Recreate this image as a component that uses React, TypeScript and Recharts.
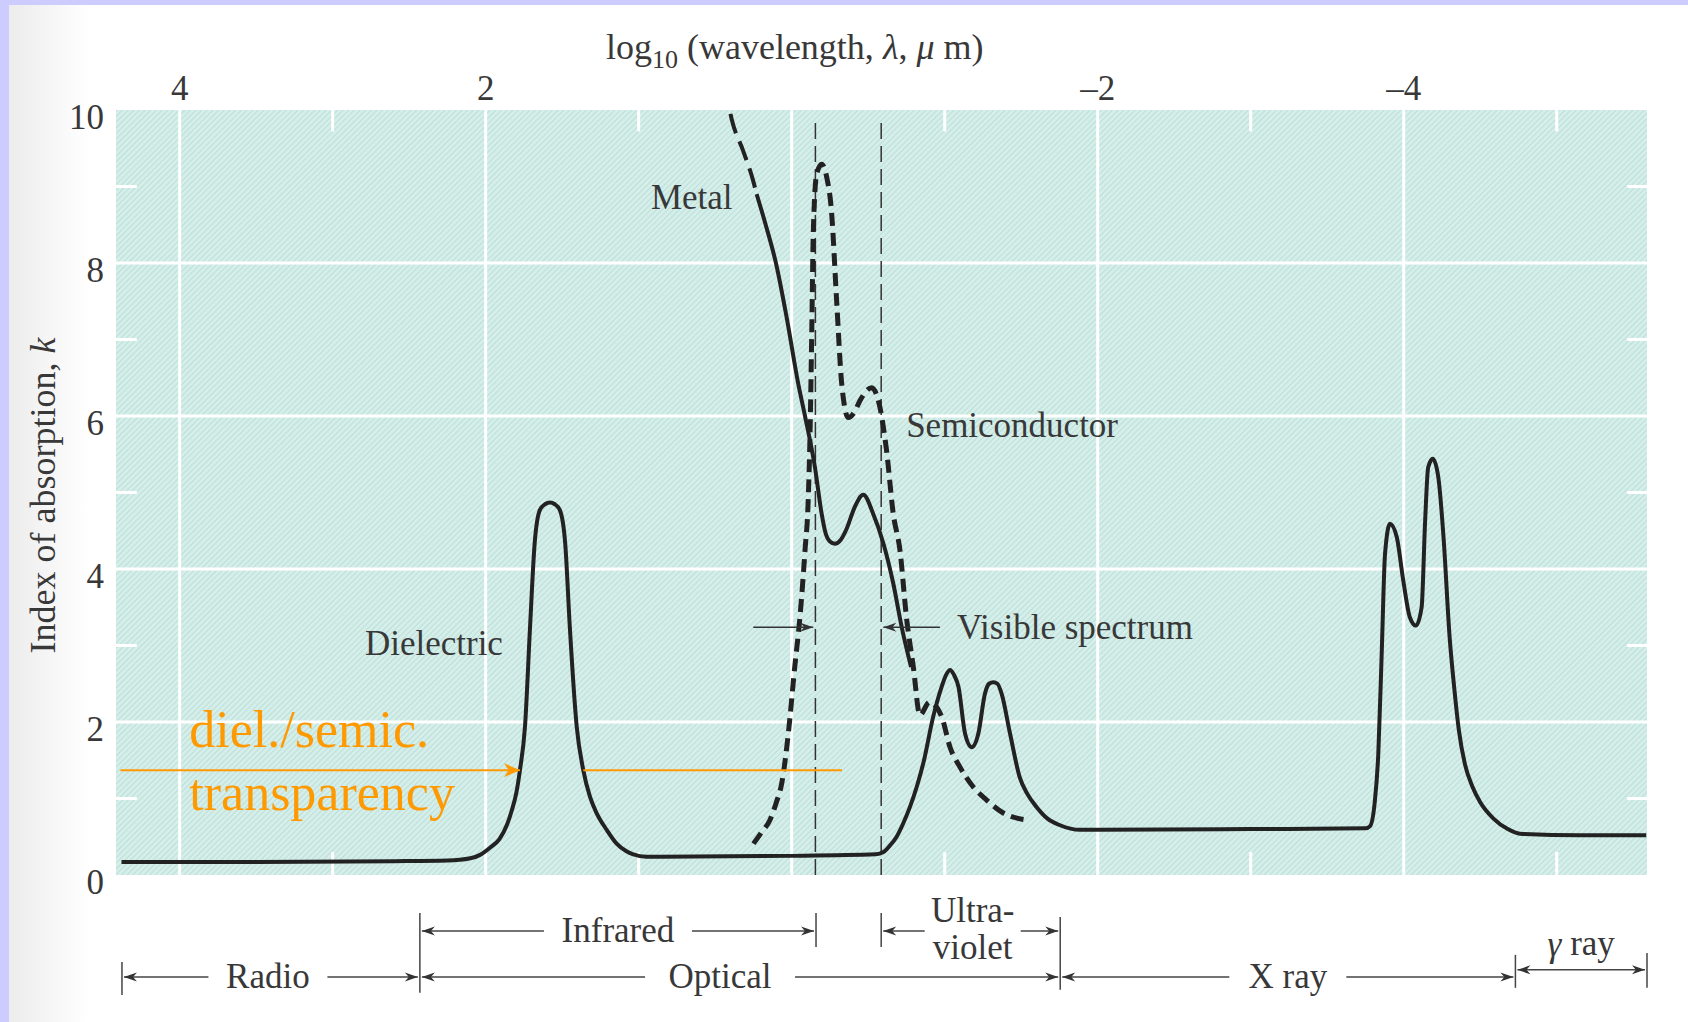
import React from 'react';
import {
  CartesianGrid,
  Line,
  LineChart,
  ReferenceDot,
  ReferenceLine,
  XAxis,
  YAxis,
} from 'recharts';

// log10(wavelength) ticks along the top, absorption index k on the left
const xTicks = [4, 2, 0, -2, -4];
const yTicks = [0, 2, 4, 6, 8, 10];
const xMinor = [3, 1, -1, -3, -5];
const yMinor = [1, 3, 5, 7, 9];
const xDomain: [number, number] = [-5.59, 4.416];

// Dielectric (solid)
const dielectricL = [
  4.38, 3.5, 2.6, 2.25, 2.1, 2.04, 1.97, 1.91, 1.86, 1.83, 1.8, 1.776, 1.743, 1.71, 1.68, 1.646,
  1.61, 1.58, 1.55, 1.515, 1.48, 1.45, 1.405, 1.362, 1.318, 1.275, 1.209, 1.144, 1.08, 1.035,
  0.95, 0.86, 0, -0.55, -0.6, -0.64, -0.686, -0.73, -0.773, -0.82, -0.86, -0.925, -0.98, -1.01,
  -1.035, -1.06, -1.09, -1.133, -1.177, -1.22, -1.263, -1.29, -1.318, -1.345, -1.372, -1.427,
  -1.49, -1.54, -1.6, -1.67, -1.754, -1.884, -2.01, -3, -3.75, -3.78, -3.81, -3.834, -3.856,
  -3.878, -3.91, -3.954, -3.997, -4.04, -4.08, -4.117, -4.14, -4.16, -4.19, -4.226, -4.26, -4.3,
  -4.33, -4.36, -4.4, -4.45, -4.5, -4.585, -4.68, -4.76, -5.15, -5.585,
];
const dielectricK = [
  0.17, 0.17, 0.18, 0.19, 0.22, 0.26, 0.36, 0.47, 0.66, 0.84, 1.07, 1.37, 1.94, 3.24, 4.33, 4.77,
  4.85, 4.87, 4.85, 4.77, 4.33, 3.24, 1.94, 1.37, 1.02, 0.81, 0.59, 0.41, 0.31, 0.27,
  0.24, 0.24, 0.25, 0.27, 0.3, 0.38, 0.5, 0.68, 0.89, 1.17, 1.46, 2.07, 2.46, 2.62,
  2.68, 2.62, 2.46, 1.85, 1.67, 1.85, 2.37, 2.5, 2.52, 2.5, 2.37, 1.85,
  1.28, 1.06, 0.89, 0.74, 0.65, 0.59, 0.59, 0.6, 0.61, 0.64, 0.94, 1.59, 2.89,
  4.2, 4.59, 4.42, 3.85, 3.37, 3.26, 3.5, 4.63, 5.33, 5.44, 5.2, 4.42, 3.11,
  2.45, 1.9, 1.45, 1.15, 0.95, 0.74, 0.6, 0.54, 0.52, 0.52,
];

// Semiconductor (short dashes)
const semiL = [
  0.25, 0.2, 0.142, 0.1, 0.065, 0.022, -0.02, -0.054, -0.087, -0.108, -0.12, -0.131, -0.141,
  -0.163, -0.196, -0.229, -0.26, -0.294, -0.327, -0.37, -0.41, -0.446, -0.523, -0.577, -0.62,
  -0.664, -0.708, -0.75, -0.795, -0.838, -0.9, -0.98, -1.035, -1.1, -1.187, -1.274, -1.383,
  -1.536,
];
const semiK = [
  0.41, 0.55, 0.72, 0.95, 1.2, 1.85, 2.72, 3.37, 4.24, 4.9, 5.77, 7.07, 8.38,
  9.16, 9.29, 9.12, 8.68, 7.5, 6.42, 5.98, 6.05, 6.2, 6.37, 6.11, 5.55,
  4.72, 4.24, 3.37, 2.72, 2.09, 2.26, 2.07, 1.67, 1.41, 1.15, 0.98, 0.81,
  0.72,
];

// Metal: long-dashed start, then solid
const metalDashL = [0.4, 0.392, 0.316, 0.251, 0.229];
const metalDashK = [9.95, 9.88, 9.46, 9.07, 8.9];
const metalL = [
  0.229, 0.17, 0.103, 0.033, -0.043, -0.087, -0.152, -0.196, -0.22, -0.25, -0.283, -0.32, -0.36,
  -0.41, -0.468, -0.533, -0.6, -0.664, -0.719, -0.78,
];
const metalK = [
  8.9, 8.5, 8.0, 7.29, 6.42, 6.0, 5.33, 4.72, 4.48, 4.36, 4.33, 4.38, 4.53,
  4.8, 4.97, 4.72, 4.33, 3.81, 3.24, 2.72,
];

// visible spectrum limits
const visibleL = [-0.155, -0.585];

// spectral bands below the plot (log wavelength limits)
const bandNames = ['Radio', 'Infrared', 'Optical', 'Ultra-violet', 'X ray', 'γ ray'];
const bandFrom = [4.377, 2.43, 2.43, -0.585, -1.755, -4.73];
const bandTo = [2.43, -0.159, -1.755, -1.755, -4.73, -5.59];

const zip = (ls: number[], ks: number[]) => ls.map((L, i) => ({ L, k: ks[i] }));

const INK = '#222';
const TXT = '#383838';
const ORANGE = '#ff9900';
const SERIF = "'Liberation Serif', 'DejaVu Serif', serif";

const head = (x: number, y: number, dir: number, color: string, len = 13, half = 4.5) => (
  <path
    d={`M${x},${y} L${x - dir * len},${y - half} L${x - dir * len * 0.7},${y} L${x - dir * len},${y + half} Z`}
    fill={color}
  />
);

// plain arrow: line with optional head at the end point
const arrowShape = (color: string, width: number, withHead: boolean, len = 13, half = 4.5) => (p: any) => {
  const dir = Math.sign(p.x2 - p.x1) || 1;
  return (
    <g>
      <line x1={p.x1} y1={p.y1} x2={p.x2} y2={p.y2} stroke={color} strokeWidth={width} />
      {withHead && head(p.x2, p.y2, dir, color, len, half)}
    </g>
  );
};

// band arrow |<---- label ---->|
const bandShape = (lines: React.ReactNode[], gap: number, shift: number, textDy: number) => (p: any) => {
  const x1 = p.x1 + 2;
  const x2 = p.x2 - 2;
  const y = p.y1;
  const mid = (p.x1 + p.x2) / 2 + shift;
  return (
    <g>
      {gap > 0 ? (
        <>
          <line x1={x1} y1={y} x2={mid - gap / 2} y2={y} stroke="#444" strokeWidth={1.5} />
          <line x1={mid + gap / 2} y1={y} x2={x2} y2={y} stroke="#444" strokeWidth={1.5} />
        </>
      ) : (
        <line x1={x1} y1={y} x2={x2} y2={y} stroke="#444" strokeWidth={1.5} />
      )}
      {head(x1, y, -1, '#333')}
      {head(x2, y, 1, '#333')}
      {lines.map((t, i) => (
        <text
          key={i}
          x={mid}
          y={y + textDy + i * 37}
          textAnchor="middle"
          dominantBaseline="central"
          fontSize={35}
          fill={TXT}
          fontFamily={SERIF}
        >
          {t}
        </text>
      ))}
    </g>
  );
};

const textShape = (node: React.ReactNode, size: number, color = TXT, anchor = 'start', rotate = 0) => (p: any) => (
  <text
    x={p.cx}
    y={p.cy}
    fontSize={size}
    fill={color}
    fontFamily={SERIF}
    textAnchor={anchor}
    transform={rotate ? `rotate(${rotate} ${p.cx} ${p.cy})` : undefined}
    dominantBaseline={rotate ? 'central' : undefined}
  >
    {node}
  </text>
);

const fmtX = (v: number) => (v === 0 ? '' : v < 0 ? `–${Math.abs(v)}` : String(v));

const bandStyle: { lines: React.ReactNode[]; row: number; gap: number; shift: number; dy: number }[] = [
  { lines: ['Radio'], row: -1.332, gap: 119, shift: -3, dy: 0 },
  { lines: ['Infrared'], row: -0.731, gap: 148, shift: 0, dy: 0 },
  { lines: ['Optical'], row: -1.332, gap: 150, shift: -20, dy: 0 },
  { lines: ['Ultra-', 'violet'], row: -0.731, gap: 96, shift: 2, dy: -20 },
  { lines: ['X ray'], row: -1.332, gap: 117, shift: 0, dy: 0 },
  { lines: [<><tspan fontStyle="italic">γ</tspan> ray</>], row: -1.24, gap: 0, shift: 0, dy: -26 },
];

// band separators: [L, kTop, kBottom]
const separators: [number, number, number][] = [
  [4.377, -1.136, -1.567],
  [2.43, -0.496, -1.54],
  [-0.159, -0.496, -0.94],
  [-0.585, -0.496, -0.94],
  [-1.755, -0.548, -1.5],
  [-4.73, -1.044, -1.475],
  [-5.59, -1.018, -1.475],
];

const App: React.FC = () => {
  return (
    <div
      style={{
        position: 'absolute',
        left: 0,
        top: 0,
        width: 1688,
        height: 1022,
        background: '#fff',
        overflow: 'hidden',
        fontFamily: SERIF,
      }}
    >
      <div style={{ position: 'absolute', left: 9, top: 0, width: 80, height: 1022, background: 'linear-gradient(90deg, #ececec, #ffffff)' }} />
      <div style={{ position: 'absolute', left: 0, top: 0, width: 1688, height: 5, background: '#ccccff' }} />
      <div style={{ position: 'absolute', left: 0, top: 0, width: 9, height: 1022, background: '#ccccff' }} />
      <div style={{ position: 'absolute', left: 0, top: 0 }}>
        <LineChart width={1688} height={1022} margin={{ top: 70, right: 41, bottom: 147, left: 56 }}>
          <defs>
            <pattern id="hatch" width="4" height="4" patternUnits="userSpaceOnUse" patternTransform="rotate(45)">
              <rect width="4" height="4" fill="#d5eeea" />
              <line x1="0" y1="0" x2="0" y2="4" stroke="#b3dbd3" strokeWidth="1.5" />
            </pattern>
          </defs>
          <CartesianGrid
            fill="url(#hatch)"
            stroke="#ffffff"
            strokeWidth={3}
            horizontalValues={[2, 4, 6, 8]}
            verticalValues={[4, 2, 0, -2, -4]}
          />
          <XAxis
            dataKey="L"
            type="number"
            orientation="top"
            reversed
            domain={xDomain}
            ticks={xTicks}
            tickFormatter={fmtX}
            height={40}
            axisLine={false}
            tickLine={false}
            tickSize={0}
            tickMargin={10}
            tick={{ fill: TXT, fontSize: 35, fontFamily: SERIF }}
            allowDataOverflow
          />
          <YAxis
            type="number"
            domain={[0, 10]}
            ticks={yTicks}
            width={60}
            axisLine={false}
            tickLine={false}
            tickSize={0}
            tickMargin={12}
            tick={{ fill: TXT, fontSize: 35, fontFamily: SERIF, dy: 7 }}
            allowDataOverflow
          />

          {/* white minor stubs on the frame */}
          {xMinor.map((v) => (
            <ReferenceLine key={`t${v}`} segment={[{ x: v, y: 10 }, { x: v, y: 9.72 }]} stroke="#fff" strokeWidth={3} ifOverflow="visible" />
          ))}
          {xMinor.map((v) => (
            <ReferenceLine key={`b${v}`} segment={[{ x: v, y: 0 }, { x: v, y: 0.3 }]} stroke="#fff" strokeWidth={3} ifOverflow="visible" />
          ))}
          {yMinor.map((v) => (
            <ReferenceLine key={`l${v}`} segment={[{ x: xDomain[1], y: v }, { x: 4.28, y: v }]} stroke="#fff" strokeWidth={3} ifOverflow="visible" />
          ))}
          {yMinor.map((v) => (
            <ReferenceLine key={`r${v}`} segment={[{ x: xDomain[0], y: v }, { x: -5.46, y: v }]} stroke="#fff" strokeWidth={3} ifOverflow="visible" />
          ))}

          {/* visible spectrum limits */}
          {visibleL.map((v) => (
            <ReferenceLine
              key={`v${v}`}
              segment={[{ x: v, y: 9.83 }, { x: v, y: 0 }]}
              stroke="#333"
              strokeWidth={1.5}
              strokeDasharray="16 7"
              ifOverflow="visible"
            />
          ))}

          <Line data={zip(dielectricL, dielectricK)} dataKey="k" type="monotone" stroke={INK} strokeWidth={4} dot={false} activeDot={false} isAnimationActive={false} />
          <Line data={zip(semiL, semiK)} dataKey="k" type="monotone" stroke={INK} strokeWidth={5} strokeDasharray="13 7" dot={false} activeDot={false} isAnimationActive={false} />
          <Line data={zip(metalDashL, metalDashK)} dataKey="k" type="monotone" stroke={INK} strokeWidth={4} strokeDasharray="20 9" dot={false} activeDot={false} isAnimationActive={false} />
          <Line data={zip(metalL, metalK)} dataKey="k" type="monotone" stroke={INK} strokeWidth={4} dot={false} activeDot={false} isAnimationActive={false} />

          {/* visible spectrum arrows */}
          <ReferenceLine segment={[{ x: 0.251, y: 3.24 }, { x: -0.141, y: 3.24 }]} ifOverflow="visible" shape={arrowShape('#333', 1.5, true)} />
          <ReferenceLine segment={[{ x: -0.969, y: 3.24 }, { x: -0.599, y: 3.24 }]} ifOverflow="visible" shape={arrowShape('#333', 1.5, true)} />

          {/* orange transparency arrow */}
          <ReferenceLine segment={[{ x: 4.387, y: 1.37 }, { x: 1.776, y: 1.37 }]} ifOverflow="visible" shape={arrowShape(ORANGE, 2, true, 16, 7)} />
          <ReferenceLine segment={[{ x: 1.362, y: 1.37 }, { x: -0.329, y: 1.37 }]} ifOverflow="visible" shape={arrowShape(ORANGE, 2, false)} />

          {/* bands below the plot */}
          {bandNames.map((name, i) => (
            <ReferenceLine
              key={name}
              segment={[{ x: bandFrom[i], y: bandStyle[i].row }, { x: bandTo[i], y: bandStyle[i].row }]}
              ifOverflow="visible"
              shape={bandShape(bandStyle[i].lines, bandStyle[i].gap, bandStyle[i].shift, bandStyle[i].dy)}
            />
          ))}
          {separators.map(([L, a, b]) => (
            <ReferenceLine key={`s${L}`} segment={[{ x: L, y: a }, { x: L, y: b }]} stroke="#444" strokeWidth={1.5} ifOverflow="visible" />
          ))}

          {/* curve labels */}
          <ReferenceDot x={0.92} y={8.71} r={0} ifOverflow="visible" shape={textShape('Metal', 35)} />
          <ReferenceDot x={-0.748} y={5.72} r={0} ifOverflow="visible" shape={textShape('Semiconductor', 35)} />
          <ReferenceDot x={2.789} y={2.87} r={0} ifOverflow="visible" shape={textShape('Dielectric', 35)} />
          <ReferenceDot x={-1.08} y={3.09} r={0} ifOverflow="visible" shape={textShape('Visible spectrum', 35)} />
          <ReferenceDot x={3.937} y={1.67} r={0} ifOverflow="visible" shape={textShape('diel./semic.', 52, ORANGE)} />
          <ReferenceDot x={3.937} y={0.85} r={0} ifOverflow="visible" shape={textShape('transparency', 52, ORANGE)} />

          {/* axis titles */}
          <ReferenceDot
            x={-0.02}
            y={10.666}
            r={0}
            ifOverflow="visible"
            shape={textShape(
              <>
                log<tspan fontSize={26} dy={9}>10</tspan>
                <tspan dy={-9}> (wavelength, </tspan>
                <tspan fontStyle="italic">λ</tspan>, <tspan fontStyle="italic">μ</tspan> m)
              </>,
              36,
              TXT,
              'middle',
            )}
          />
          <ReferenceDot
            x={4.893}
            y={4.96}
            r={0}
            ifOverflow="visible"
            shape={textShape(
              <>
                Index of absorption, <tspan fontStyle="italic">k</tspan>
              </>,
              36,
              TXT,
              'middle',
              -90,
            )}
          />
        </LineChart>
      </div>
    </div>
  );
};

export default App;
